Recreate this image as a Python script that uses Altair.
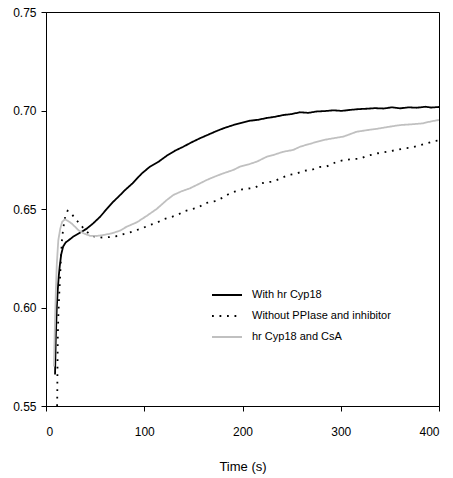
import altair as alt
import pandas as pd

series_names = ["With hr Cyp18", "Without PPIase and inhibitor", "hr Cyp18 and CsA"]

t_black = [9.2, 10, 11, 12, 13, 14, 15.5, 17.5, 20, 22.7, 27.8, 34.6, 41.4, 48, 55, 61.8, 68.5,
           75.3, 80.4, 88, 97.4, 105.8, 114, 122.8, 131, 139.7, 148, 156.7, 165, 173.7, 182,
           190.6, 199, 207.6, 216, 224.6, 233, 241.5, 250, 258.5, 267, 275.5, 284, 292.4, 301,
           309.4, 318, 326.4, 335, 343.3, 352, 360.3, 369, 377.3, 386, 392, 400]
v_black = [0.566, 0.585, 0.600, 0.609, 0.616, 0.621, 0.627, 0.631, 0.633, 0.634, 0.636, 0.638,
           0.640, 0.6427, 0.646, 0.650, 0.6537, 0.657, 0.6596, 0.663, 0.668, 0.6715, 0.6738,
           0.677, 0.6795, 0.6816, 0.6838, 0.6859, 0.6877, 0.6896, 0.6912, 0.6926, 0.6937, 0.6948,
           0.6953, 0.6962, 0.6968, 0.6977, 0.6982, 0.6991, 0.6988, 0.6995, 0.6997, 0.7001,
           0.6998, 0.7003, 0.7007, 0.7009, 0.7012, 0.7010, 0.7016, 0.7011, 0.7016, 0.7014,
           0.7019, 0.7015, 0.7018]

t_dot = [11.3, 11.5, 11.6, 11.8, 12, 12.5, 13.3, 14.3, 15.3, 16.3, 17.5, 19.5, 22, 24.5, 27.8,
         34.6, 41.4, 47, 53, 59, 65.8, 72.6, 79, 85.5, 92.3, 98.4, 105, 112.6, 120, 128, 135,
         141.5, 149, 155, 162, 172.7, 179.5, 186, 192, 200, 207.6, 213, 219, 224.6, 231, 238,
         247, 254.5, 262.6, 270, 278, 285.7, 296, 304, 312, 319.6, 326, 338, 346.8, 357, 365,
         371.5, 378, 387.5, 395, 400]
v_dot = [0.550, 0.556, 0.565, 0.575, 0.585, 0.595, 0.605, 0.615, 0.626, 0.6345, 0.640, 0.646,
         0.6491, 0.6485, 0.6464, 0.6422, 0.6385, 0.6363, 0.6356, 0.6355, 0.6358, 0.6363,
         0.6373, 0.6381, 0.6393, 0.6403, 0.6418, 0.643, 0.6449, 0.646, 0.6473, 0.649, 0.650,
         0.6507, 0.6530, 0.654, 0.6557, 0.6576, 0.6588, 0.660, 0.6605, 0.6608, 0.663, 0.6636,
         0.6639, 0.6654, 0.6673, 0.6679, 0.6694, 0.6698, 0.6713, 0.6716, 0.674, 0.6749,
         0.6754, 0.6755, 0.6769, 0.6783, 0.679, 0.680, 0.6808, 0.6811, 0.682, 0.6833, 0.6845,
         0.6848]

t_gray = [8.1, 9, 10, 11, 12.5, 14.5, 16.5, 19.3, 22, 26, 29.5, 32.9, 38, 44.8, 51.6, 58.3,
          66.8, 75.3, 82, 92.3, 102.5, 112.6, 122.8, 129.6, 138, 146.5, 156.7, 163.5, 172,
          180.4, 190.6, 197.4, 207, 214.4, 224.6, 231.3, 241, 251.7, 258.5, 268, 282.2, 292.4,
          303, 316, 326.4, 338, 350, 360.3, 372, 384, 392, 400]
v_gray = [0.570, 0.590, 0.608, 0.622, 0.634, 0.640, 0.6435, 0.6448, 0.6440, 0.6427, 0.641,
          0.6393, 0.6377, 0.6364, 0.6363, 0.6368, 0.6376, 0.639, 0.641, 0.6432, 0.6465, 0.650,
          0.6545, 0.6571, 0.659, 0.6605, 0.663, 0.6647, 0.6665, 0.6681, 0.6698, 0.6715,
          0.6728, 0.674, 0.6765, 0.6774, 0.679, 0.680, 0.6816, 0.683, 0.685, 0.6859, 0.6868,
          0.6892, 0.690, 0.6908, 0.6918, 0.6926, 0.693, 0.6935, 0.6945, 0.6952]

x_ticks = [0, 100, 200, 300, 400]
y_ticks = [0.55, 0.60, 0.65, 0.70, 0.75]

rows = []
for name, ts, vs in [(series_names[0], t_black, v_black),
                     (series_names[1], t_dot, v_dot),
                     (series_names[2], t_gray, v_gray)]:
    for i, (t, v) in enumerate(zip(ts, vs)):
        rows.append({"series": name, "t": t, "v": v, "order": i})
df = pd.DataFrame(rows)

FONT = "Liberation Sans"

chart = alt.Chart(df).mark_line(strokeWidth=1.8, clip=True).encode(
    x=alt.X("t:Q", scale=alt.Scale(domain=[0, 400], nice=False),
            axis=alt.Axis(values=x_ticks, title="Time (s)", format="d")),
    y=alt.Y("v:Q", scale=alt.Scale(domain=[0.55, 0.75], nice=False, zero=False),
            axis=alt.Axis(values=y_ticks, title=None, format=".2f")),
    color=alt.Color("series:N",
                    scale=alt.Scale(domain=series_names, range=["#000000", "#000000", "#c0c0c0"]),
                    legend=alt.Legend(title=None, orient="none", legendX=165, legendY=267,
                                      symbolType="stroke", symbolSize=900, symbolStrokeWidth=1.8,
                                      labelFont=FONT, labelFontSize=11, labelColor="#000000",
                                      labelOffset=9, rowPadding=-5)),
    strokeDash=alt.StrokeDash("series:N",
                              scale=alt.Scale(domain=series_names, range=[[1, 0], [1.8, 5.7], [1, 0]]),
                              legend=alt.Legend(title=None)),
    order="order:Q",
).properties(
    width=393, height=394,
    autosize=alt.AutoSizeParams(type="none"),
    padding={"left": 46, "top": 12, "right": 14, "bottom": 72},
).configure_view(
    stroke="#000000", strokeWidth=1
).configure_axis(
    grid=False, domainColor="#000000", tickColor="#000000", tickSize=5,
    labelFont=FONT, labelFontSize=12, labelColor="#000000",
    titleFont=FONT, titleFontSize=13, titleFontWeight="normal", titleColor="#000000",
).configure_axisX(
    labelPadding=15, titlePadding=23
).configure_axisY(
    labelPadding=5
)

chart.save("out.html", embed_options={"renderer": "svg", "actions": False})
